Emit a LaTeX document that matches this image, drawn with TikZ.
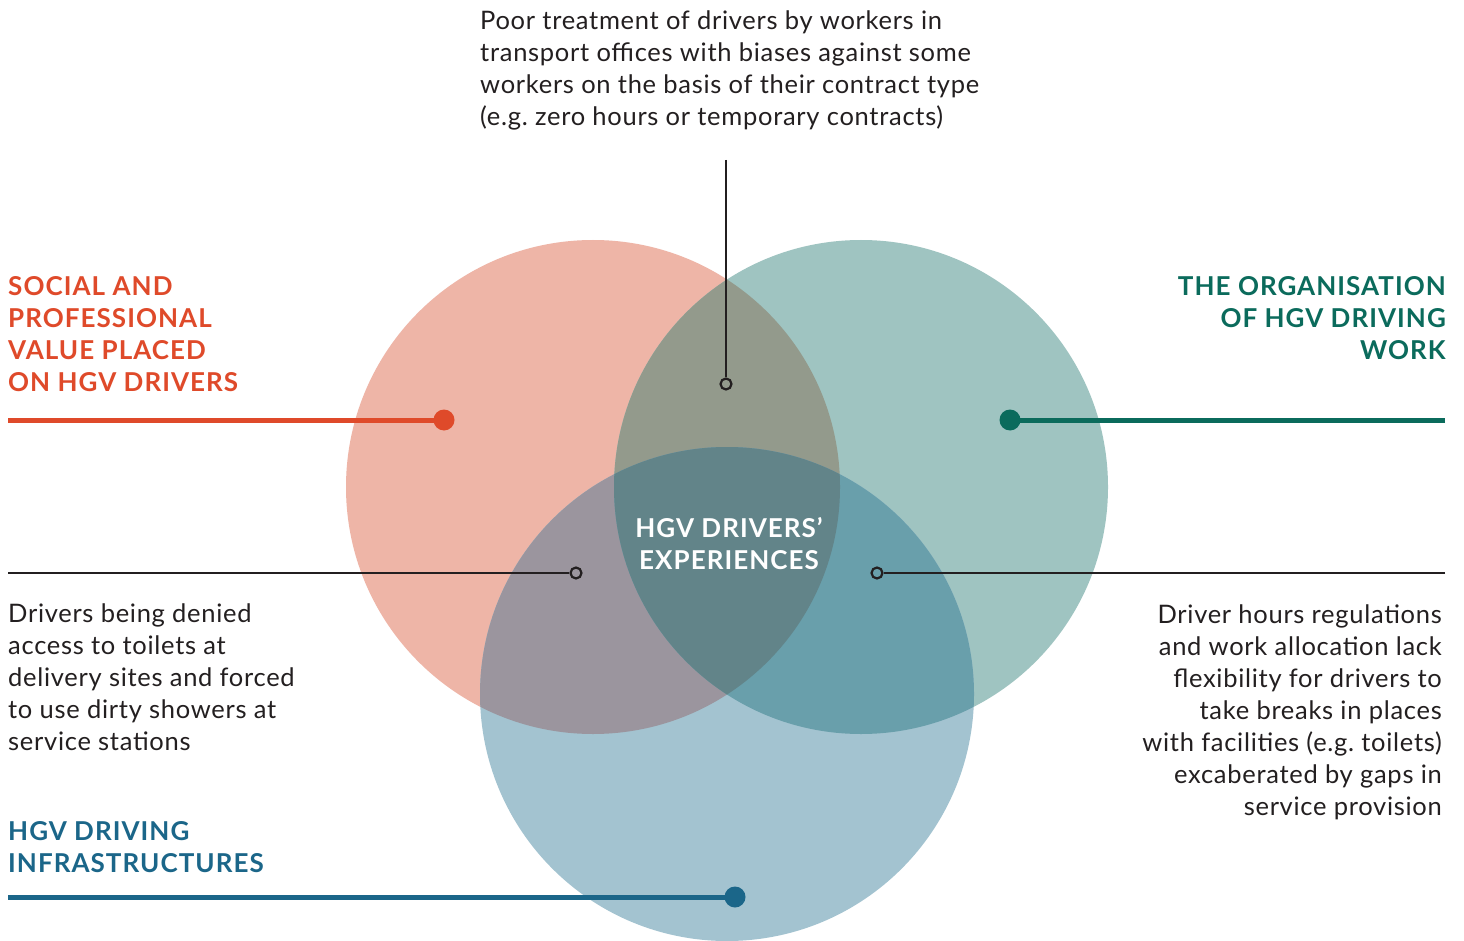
\documentclass[tikz,border=0pt]{standalone}
\usepackage{fontspec}
\setmainfont{Lato}
\frenchspacing
\definecolor{pinkc}{HTML}{EEB5A7}
\definecolor{tealc}{HTML}{9FC4C1}
\definecolor{bluec}{HTML}{A3C3D0}
\definecolor{pt}{HTML}{939A8C}
\definecolor{pb}{HTML}{9B959E}
\definecolor{tb}{HTML}{699FAB}
\definecolor{ptb}{HTML}{628489}
\definecolor{redd}{HTML}{DF4A2A}
\definecolor{teald}{HTML}{0B6B5C}
\definecolor{blued}{HTML}{1B6689}
\definecolor{ink}{HTML}{231F20}
\begin{document}
\begin{tikzpicture}[x=1pt,y=-1pt,
  body/.style={inner sep=0pt,text=ink,font=\fontsize{25.5}{32}\selectfont\frenchspacing\addfontfeature{LetterSpace=2.8}},
  head/.style={inner sep=0pt,font=\fontsize{26}{32}\selectfont\bfseries\addfontfeature{LetterSpace=4}},
  thick line/.style={line width=5pt},
  thin line/.style={line width=2pt,draw=ink},
  bigdot/.style={circle,inner sep=0pt,minimum size=21pt},
  opendot/.style={circle,draw=ink,fill=none,line width=2.2pt,inner sep=0pt,minimum size=11pt},
]
\useasboundingbox (0,0) rectangle (1464,941);
\fill[white] (0,0) rectangle (1464,941);
\def\rr{247}
% circles
\node[circle,inner sep=0pt,minimum size=494pt,fill=pinkc] (P) at (593,487) {};
\node[circle,inner sep=0pt,minimum size=494pt,fill=tealc] (T) at (861,487) {};
\node[circle,inner sep=0pt,minimum size=494pt,fill=bluec] (B) at (727,694) {};
\begin{scope}
  \clip (593,487) circle (\rr);
  \fill[pt] (861,487) circle (\rr);
  \fill[pb] (727,694) circle (\rr);
\end{scope}
\begin{scope}
  \clip (861,487) circle (\rr);
  \fill[tb] (727,694) circle (\rr);
\end{scope}
\begin{scope}
  \clip (861,487) circle (\rr);
  \clip (727,694) circle (\rr);
  \fill[ptb] (593,487) circle (\rr);
\end{scope}
% thick connectors
\coordinate (r0) at (8,420);
\node[bigdot,fill=redd] (rd) at (444,420) {};
\draw[thick line,draw=redd] (r0) -- (rd.center);
\coordinate (t0) at (1445,420);
\node[bigdot,fill=teald] (td) at (1010,420) {};
\draw[thick line,draw=teald] (t0) -- (td.center);
\coordinate (b0) at (8,897);
\node[bigdot,fill=blued] (bd) at (735,897) {};
\draw[thick line,draw=blued] (b0) -- (bd.center);
% thin connectors
\coordinate (v0) at (726,160);
\node[opendot] (vd) at (726,384) {};
\draw[thin line] (v0) -- (vd);
\coordinate (l0) at (8,573);
\node[opendot] (ld) at (576,573) {};
\draw[thin line] (l0) -- (ld);
\coordinate (rr0) at (1445,573);
\node[opendot] (rdd) at (877,573) {};
\draw[thin line] (rr0) -- (rdd);
% headings (anchor = baseline of last line)
\node[head,text=redd,align=left,anchor=base west] (hred) at (8,391) {SOCIAL AND\\PROFESSIONAL\\VALUE PLACED\\ON HGV DRIVERS};
\node[head,text=teald,align=right,anchor=base east] (hteal) at (1446,359) {THE ORGANISATION\\OF HGV DRIVING\\WORK};
\node[head,text=blued,align=left,anchor=base west] (hblue) at (8,872) {HGV DRIVING\\INFRASTRUCTURES};
\node[head,text=white,align=center,anchor=base] (hc) at (729,569) {HGV DRIVERS’\\EXPERIENCES};
% body texts
\node[body,align=left,anchor=base west] (ttop) at (480,126) {Poor treatment of drivers by workers in\\transport offices with biases against some\\workers on the basis of their contract type\\(e.g. zero hours or temporary contracts)};
\node[body,align=left,anchor=base west] (tleft) at (8,750) {Drivers being denied\\access to toilets at\\delivery sites and forced\\to use dirty showers at\\service stations};
\node[body,align=right,anchor=base east] (tright) at (1442,815) {Driver hours regulations\\and work allocation lack\\flexibility for drivers to\\take breaks in places\\with facilities (e.g. toilets)\\excaberated by gaps in\\service provision};
\end{tikzpicture}
\end{document}
